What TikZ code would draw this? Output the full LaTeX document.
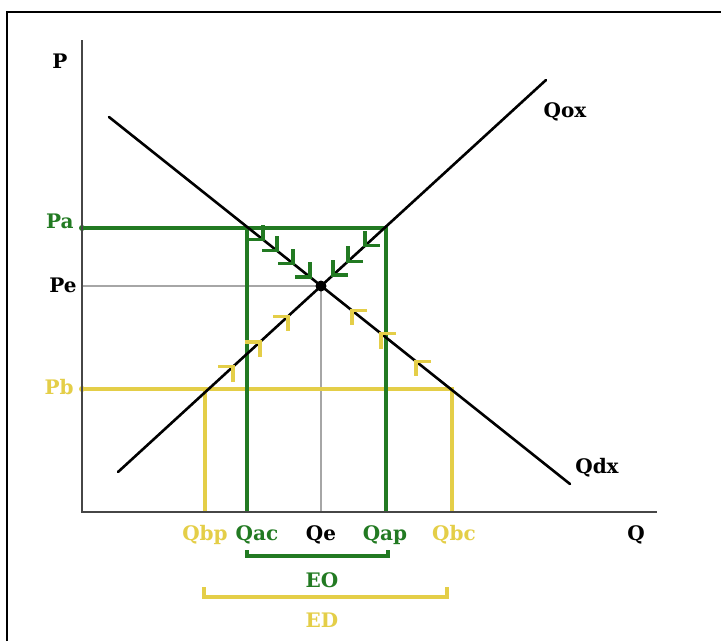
\documentclass[tikz,border=0pt]{standalone}
\usepackage{fontspec}
\setmainfont{DejaVu Serif}
\definecolor{eogreen}{RGB}{34,122,34}
\definecolor{edyellow}{RGB}{228,206,72}
\definecolor{axisgray}{RGB}{70,70,70}
\tikzset{
	lbl/.style={font=\bfseries\fontsize{20}{24}\selectfont, inner sep=0pt},
	curve/.style={black, line width=2.6pt, line cap=round},
	guide/.style={line width=3.6pt},
	barb/.style={line width=3.4pt}
}

\def\xscale{1}
\def\yscale{-1}

\begin{document}
\begin{tikzpicture}[x=\xscale pt, y=\yscale pt, thick]
	\useasboundingbox (0,0) rectangle (721,641);
	% frame
	\draw[black, line width=2.6pt] (7,641) |- (721,12);
	
	\coordinate (O) at (82,512);
	\coordinate (Ptop) at (82,40);
	\coordinate (Qend) at (657,512);
	\coordinate (D1) at (109,117);
	\coordinate (D2) at (570,484);
	\coordinate (S1) at (118,472);
	\coordinate (S2) at (546,80);
	\coordinate (E) at (321,286);
	\coordinate (Pe) at (82,286);
	\coordinate (Qe) at (321,512);
	
	\coordinate (PaL) at (82,228);
	\coordinate (PaD) at (247,228);
	\coordinate (PaS) at (386,228);
	\coordinate (Qac) at (247,512);
	\coordinate (Qap) at (386,512);
	
	\coordinate (PbL) at (82,389);
	\coordinate (PbS) at (205,389);
	\coordinate (PbD) at (452,389);
	\coordinate (Qbp) at (205,512);
	\coordinate (Qbc) at (452,512);
	
	% guides
	\draw[gray!70, line width=1.3pt] (Pe) -- (E) -- (Qe);
	\draw[edyellow, guide] (PbL) -- (PbD) -- (Qbc);
	\draw[edyellow, guide] (PbS) -- (Qbp);
	\draw[eogreen, guide] (PaL) -- (PaS) -- (Qap);
	\draw[eogreen, guide] (PaD) -- (Qac);
	\fill[eogreen] (PaL) circle (3pt);
	\fill[edyellow] (PbL) circle (3pt);
	
	% axes
	\draw[axisgray, line width=2.6pt] (Ptop) -- (O) -- (Qend);
	
	% demand and supply
	\draw[curve] (D1) -- (D2);
	\draw[curve] (S1) -- (S2);
	\fill (E) circle (5.5pt);
	
	% arrows towards the equilibrium
	\foreach \x/\y in {263/239.6, 277/250.7, 293/263.5, 310/277}{
		\draw[eogreen, barb] (\x-15,\y) -- (\x,\y) -- (\x,\y-15);
	}
	\foreach \x/\y in {333/275, 348/261.3, 365/245.7}{
		\draw[eogreen, barb] (\x+15,\y) -- (\x,\y) -- (\x,\y-15);
	}
	\foreach \x/\y in {233/366.7, 260/341.9, 288/316.3}{
		\draw[edyellow, barb] (\x-15,\y) -- (\x,\y) -- (\x,\y+15);
	}
	\foreach \x/\y in {352/310.4, 381/333.5, 416/361.4}{
		\draw[edyellow, barb] (\x+15,\y) -- (\x,\y) -- (\x,\y+15);
	}
	
	% brackets
	\draw[eogreen, guide] (247,550) |- (388,556) -- (388,550);
	\draw[edyellow, guide] (204,587) |- (447,597) -- (447,587);
	
	% labels
	\node[lbl, anchor=base] (lP) at (60,68) {P};
	\node[lbl, anchor=base] (lQ) at (636,540) {Q};
	\node[lbl, anchor=base east, text=eogreen] (lPa) at (74,228) {Pa};
	\node[lbl, anchor=base east] (lPe) at (77,292) {Pe};
	\node[lbl, anchor=base east, text=edyellow] (lPb) at (74,394) {Pb};
	\node[lbl, anchor=base, text=edyellow] (lQbp) at (205,540) {Qbp};
	\node[lbl, anchor=base, text=eogreen] (lQac) at (257,540) {Qac};
	\node[lbl, anchor=base] (lQe) at (321,540) {Qe};
	\node[lbl, anchor=base, text=eogreen] (lQap) at (385,540) {Qap};
	\node[lbl, anchor=base, text=edyellow] (lQbc) at (454,540) {Qbc};
	\node[lbl, anchor=base, text=eogreen] (lEO) at (322,587) {EO};
	\node[lbl, anchor=base, text=edyellow] (lED) at (322,627) {ED};
	\node[lbl, anchor=base] (lQox) at (565,117) {Qox};
	\node[lbl, anchor=base] (lQdx) at (597,473) {Qdx};
\end{tikzpicture}
\end{document}
